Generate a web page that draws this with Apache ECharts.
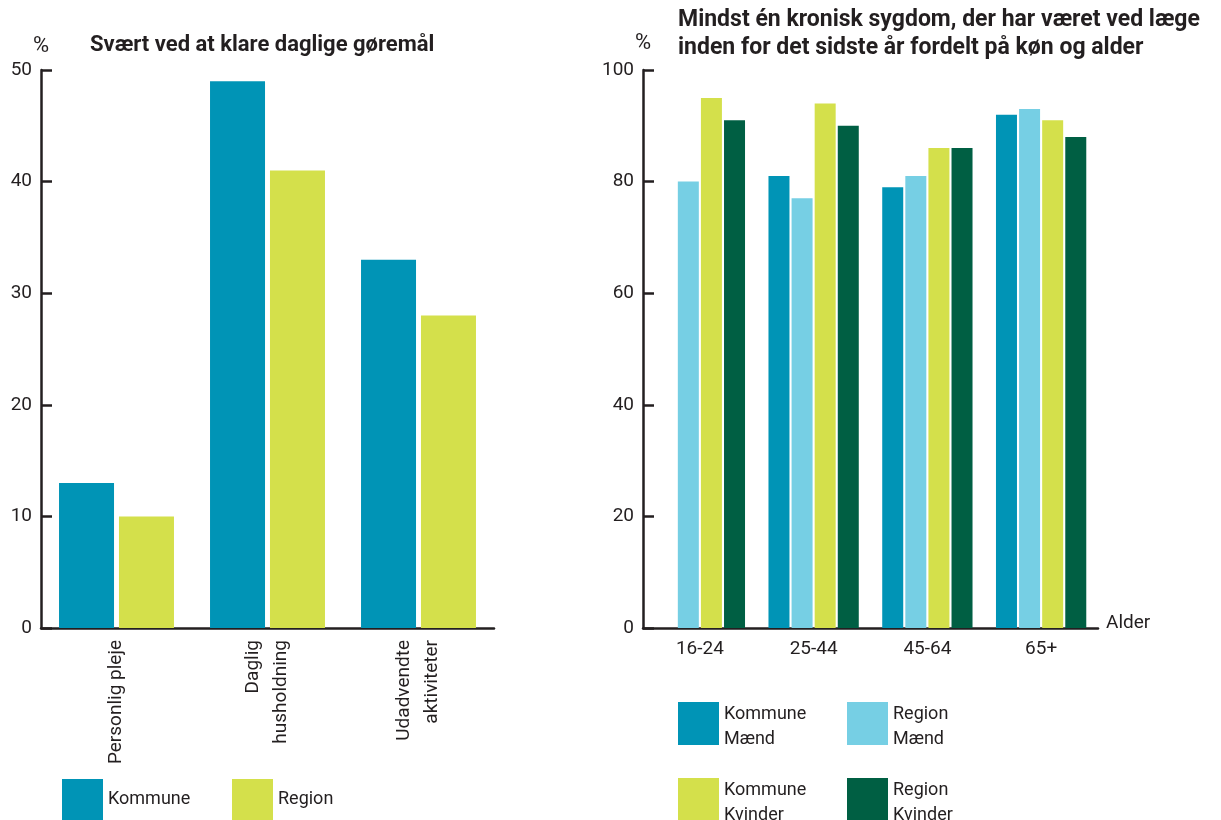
<!DOCTYPE html>
<html>
<head>
<meta charset="utf-8">
<script src="https://cdn.jsdelivr.net/npm/echarts@6/dist/echarts.min.js"></script>
<style>
html,body{margin:0;padding:0;background:#fff;}
#c{width:1221px;height:820px;}
</style>
</head>
<body>
<div id="c"></div>
<script>
// ---- data ----
const leftTitle = 'Svært ved at klare daglige gøremål';
const leftCategories = ['Personlig pleje', 'Daglig\nhusholdning', 'Udadvendte\naktiviteter'];
const leftKommune = [13, 49, 33];
const leftRegion = [10, 41, 28];
const leftTicks = [0, 10, 20, 30, 40, 50];

const rightTitle = 'Mindst én kronisk sygdom, der har været ved læge\ninden for det sidste år fordelt på køn og alder';
const rightCategories = ['16-24', '25-44', '45-64', '65+'];
const kommuneMaend = ['-', 81, 79, 92];
const regionMaend = [80, 77, 81, 93];
const kommuneKvinder = [95, 94, 86, 91];
const regionKvinder = [91, 90, 86, 88];
const rightTicks = [0, 20, 40, 60, 80, 100];

// ---- styles ----
const INK = '#231f20';
const FONT = 'Roboto';
const C_BLUE = '#0094b6';
const C_LIGHT = '#76cfe4';
const C_YELLOW = '#d4e04b';
const C_GREEN = '#005f43';

const chart = echarts.init(document.getElementById('c'));

function yAxisCfg(idx, ticks, gap) {
  return {
    type: 'value', gridIndex: idx,
    min: ticks[0], max: ticks[ticks.length - 1],
    interval: ticks[1] - ticks[0],
    name: '%', nameLocation: 'end', nameGap: gap,
    nameTextStyle: { color: INK, fontFamily: FONT, fontSize: 22, align: 'center', verticalAlign: 'middle' },
    axisLine: { show: true, lineStyle: { color: INK, width: 2.5 } },
    axisTick: { show: true, inside: true, length: 11, lineStyle: { color: INK, width: 2.5 } },
    axisLabel: { color: INK, fontFamily: FONT, fontSize: 19, margin: 9 },
    splitLine: { show: false }
  };
}

function legendItem(name, left, top, h, multi) {
  return {
    data: [name], left: left, top: top, padding: 0,
    orient: 'horizontal', icon: 'rect',
    itemWidth: 41, itemHeight: h,
    selectedMode: false,
    formatter: multi ? (n => '{s| }\n' + n.replace(' ', '\n')) : undefined,
    textStyle: { color: INK, fontFamily: FONT, fontSize: 18, lineHeight: 25,
                 rich: { s: { fontSize: 1, lineHeight: 6 } } }
  };
}

const option = {
  backgroundColor: '#fff',
  animation: false,
  title: [
    { text: leftTitle, left: 90, top: 34, padding: 0,
      textStyle: { color: INK, fontFamily: FONT, fontSize: 22, fontWeight: 'bold' } },
    { text: rightTitle, left: 678, top: 6, padding: 0,
      textStyle: { color: INK, fontFamily: FONT, fontSize: 23, fontWeight: 'bold', lineHeight: 28 } }
  ],
  grid: [
    { left: 41, top: 70, width: 453, height: 558 },
    { left: 643, top: 70, width: 455, height: 558 }
  ],
  xAxis: [
    { type: 'category', gridIndex: 0, data: leftCategories,
      axisLine: { lineStyle: { color: INK, width: 2.5 } },
      axisTick: { inside: true, length: 13, lineStyle: { color: INK, width: 2.5 } },
      axisLabel: { interval: 0, rotate: 90, color: INK, fontFamily: FONT, fontSize: 19, lineHeight: 28, margin: 12 } },
    { type: 'category', gridIndex: 1, data: rightCategories,
      name: 'Alder', nameLocation: 'end', nameGap: 8,
      nameTextStyle: { color: INK, fontFamily: FONT, fontSize: 19, verticalAlign: 'bottom', lineHeight: 10 },
      axisLine: { lineStyle: { color: INK, width: 2.5 } },
      axisTick: { inside: true, length: 13, lineStyle: { color: INK, width: 2.5 } },
      axisLabel: { interval: 0, color: INK, fontFamily: FONT, fontSize: 19, margin: 12 } }
  ],
  yAxis: [yAxisCfg(0, leftTicks, 24), yAxisCfg(1, rightTicks, 27)],
  legend: [
    legendItem('Kommune', 62, 779, 41, false),
    legendItem('Region', 232, 779, 41, false),
    legendItem('Kommune Mænd', 678, 695.5, 43, true),
    legendItem('Region Mænd', 847, 695.5, 43, true),
    legendItem('Kommune Kvinder', 678, 771.5, 43, true),
    legendItem('Region Kvinder', 847, 771.5, 43, true)
  ],
  series: [
    { name: 'Kommune', type: 'bar', xAxisIndex: 0, yAxisIndex: 0, data: leftKommune,
      barWidth: 55, barGap: '9%', itemStyle: { color: C_BLUE } },
    { name: 'Region', type: 'bar', xAxisIndex: 0, yAxisIndex: 0, data: leftRegion,
      barWidth: 55, barGap: '9%', itemStyle: { color: C_YELLOW } },
    { name: 'Kommune Mænd', type: 'bar', xAxisIndex: 1, yAxisIndex: 1, data: kommuneMaend,
      barWidth: 21, barGap: '10%', itemStyle: { color: C_BLUE } },
    { name: 'Region Mænd', type: 'bar', xAxisIndex: 1, yAxisIndex: 1, data: regionMaend,
      barWidth: 21, barGap: '10%', itemStyle: { color: C_LIGHT } },
    { name: 'Kommune Kvinder', type: 'bar', xAxisIndex: 1, yAxisIndex: 1, data: kommuneKvinder,
      barWidth: 21, barGap: '10%', itemStyle: { color: C_YELLOW } },
    { name: 'Region Kvinder', type: 'bar', xAxisIndex: 1, yAxisIndex: 1, data: regionKvinder,
      barWidth: 21, barGap: '10%', itemStyle: { color: C_GREEN } }
  ]
};
chart.setOption(option);
</script>
</body>
</html>
